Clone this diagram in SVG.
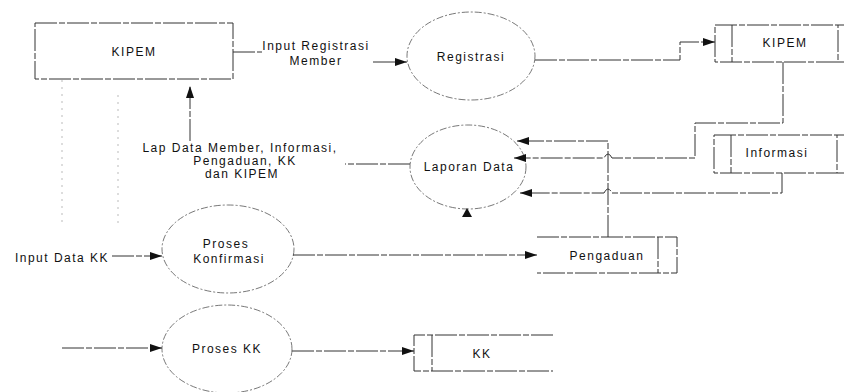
<svg xmlns="http://www.w3.org/2000/svg" width="844" height="392" viewBox="0 0 844 392">
<style>
text{font-family:"Liberation Sans",Arial,sans-serif;font-size:12px;letter-spacing:1.5px;fill:#111;text-anchor:middle}
.ell{fill:none;stroke:#555;stroke-width:0.8;stroke-dasharray:7 2 2 2}
.box{fill:none;stroke:#333;stroke-width:1;stroke-dasharray:22 2 6 2}
.ln{fill:none;stroke:#333;stroke-width:1;stroke-dasharray:22 2 6 2}
.faint{fill:none;stroke:#aaa;stroke-width:0.8;stroke-dasharray:2 5}
.arr{marker-end:url(#ah)}
</style>
<defs>
<marker id="ah" viewBox="0 0 12 8" refX="12" refY="4" markerWidth="12" markerHeight="8" markerUnits="userSpaceOnUse" orient="auto">
<path d="M0,0 L12,4 L0,8 Z" fill="#111"/>
</marker>
</defs>
<rect width="844" height="392" fill="#fff"/>

<g id="kipem-entity">
<rect class="box" x="35" y="23" width="198" height="56"/>
<text x="134" y="56">KIPEM</text>
</g>

<g id="registrasi">
<ellipse class="ell" cx="471" cy="56" rx="64" ry="44"/>
<text x="471" y="61">Registrasi</text>
</g>

<g id="laporan-data">
<ellipse class="ell" cx="468" cy="167" rx="58" ry="42"/>
<text x="469" y="171">Laporan Data</text>
</g>

<g id="proses-konfirmasi">
<ellipse class="ell" cx="228" cy="249" rx="66" ry="44"/>
<text x="226" y="248">Proses</text>
<text x="229" y="263">Konfirmasi</text>
</g>

<g id="proses-kk">
<ellipse class="ell" cx="227" cy="349" rx="65" ry="44"/>
<text x="227" y="353">Proses KK</text>
</g>

<g id="store-kipem">
<rect class="box" x="715" y="25" width="123" height="37"/>
<path class="box" d="M732,25 V62 M838,25 H844 M838,62 H844"/>
<text x="785" y="47">KIPEM</text>
</g>

<g id="store-informasi">
<rect class="box" x="714" y="135" width="123" height="38"/>
<path class="box" d="M731,135 V173 M837,135 H844 M837,173 H844"/>
<text x="777" y="157">Informasi</text>
</g>

<g id="store-pengaduan">
<path class="box" d="M537,237 H677 V273 H537 M658,237 V273"/>
<text x="607" y="260">Pengaduan</text>
</g>

<g id="store-kk">
<path class="box" d="M553,335 H414 V371 H553 M432,335 V371"/>
<text x="482" y="358">KK</text>
</g>

<g id="labels">
<text x="316" y="50">Input Registrasi</text>
<text x="316" y="65">Member</text>
<text x="240" y="152">Lap Data Member, Informasi,</text>
<text x="245" y="165">Pengaduan, KK</text>
<text x="242" y="178">dan KIPEM</text>
<text x="62" y="262">Input Data KK</text>
</g>

<g id="connectors">
<path class="faint" d="M62,80 V226 M118,95 V224"/>
<path class="ln" d="M233,52 H262"/>
<path class="ln arr" d="M373,62 H407"/>
<path class="ln arr" d="M535,60 H680 V42 H715"/>
<path class="ln arr" d="M783,62 V123 H695 V158 H612 Q608,150 604,158 H514"/>
<path class="ln arr" d="M782,173 V193 H612 Q608,185 604,193 H520"/>
<path class="ln arr" d="M608,237 V141 H517"/>
<path class="ln" d="M410,164 H345"/>
<path class="ln arr" d="M190,141 V86"/>
<path class="ln arr" d="M112,256 H162"/>
<path class="ln arr" d="M293,255 H537"/>
<path class="ln arr" d="M62,348 H162"/>
<path class="ln arr" d="M292,351 H414"/>
<path d="M467,208 L472,217 L462,217 Z" fill="#111"/>
</g>
</svg>
